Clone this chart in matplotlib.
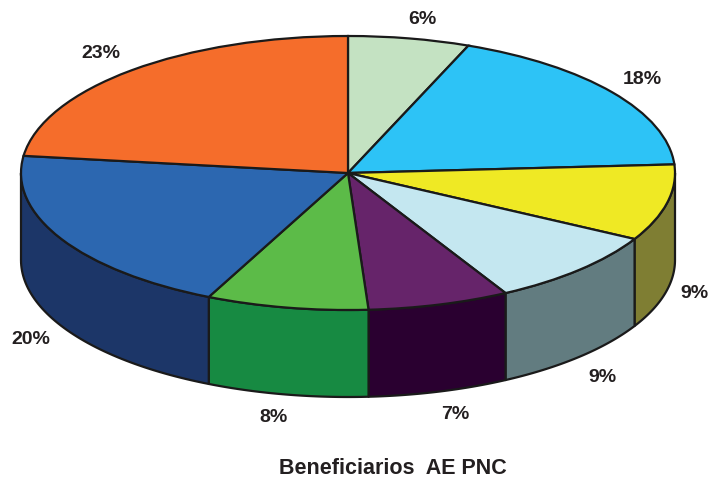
import numpy as np
import matplotlib
matplotlib.use("Agg")
import matplotlib.pyplot as plt

plt.rcParams["font.family"] = ["Liberation Sans", "DejaVu Sans"]

values = [6, 18, 9, 9, 7, 8, 20, 23]
labels = ["6%", "18%", "9%", "9%", "7%", "8%", "20%", "23%"]
top_colors = ["#c4e2c2", "#2dc3f6", "#efe924", "#c4e7f0",
              "#66246a", "#5cbb48", "#2c67b0", "#f56d2b"]
side_colors = ["#c4e2c2", "#2dc3f6", "#7f7e33", "#627c80",
               "#2a0030", "#178a42", "#1c3668", "#f56d2b"]
label_px = [(422, 19.5), (642, 79.5), (694, 293.5), (602, 378),
            (455, 414.5), (274, 417.5), (31, 339.5), (101, 53.5)]

W, H = 708, 482
CX, CY, RX, RY = 348, 173, 327, 137
DEPTH = 87 / RY
EDGE = "#1a1a1a"

fig = plt.figure(figsize=(W / 100, H / 100), dpi=100)
ax = fig.add_axes([0, 0, 1, 1])

# side walls first, only the front half (90..270 deg clockwise from top) shows
angles = np.cumsum([0] + values) * 3.6
for a0, a1, col in zip(angles[:-1], angles[1:], side_colors):
    lo, hi = max(a0, 90), min(a1, 270)
    if lo >= hi:
        continue
    t = np.radians(np.linspace(lo, hi, 60))
    x, y = np.sin(t), np.cos(t)
    xs = np.r_[x, x[::-1]]
    ys = np.r_[y, y[::-1] - DEPTH]
    ax.fill(xs, ys, facecolor=col, edgecolor=EDGE, linewidth=1.6, joinstyle="round")

ax.pie(values, colors=top_colors, startangle=90, counterclock=False, radius=1,
       wedgeprops=dict(edgecolor=EDGE, linewidth=1.6))

ax.set_aspect("auto")
ax.set_xlim(-CX / RX, (W - CX) / RX)
ax.set_ylim((CY - H) / RY, CY / RY)
ax.axis("off")

for lab, (px, py) in zip(labels, label_px):
    ax.text(px / W, 1 - py / H, lab, transform=ax.transAxes, ha="center", va="center",
            fontsize=14, fontweight="bold", color="#231f20")

ax.text(393 / W, 1 - 469 / H, "Beneficiarios  AE PNC", transform=ax.transAxes,
        ha="center", va="center", fontsize=15.5, fontweight="bold", color="#231f20")

fig.savefig("out.png", dpi=100)
plt.close(fig)
